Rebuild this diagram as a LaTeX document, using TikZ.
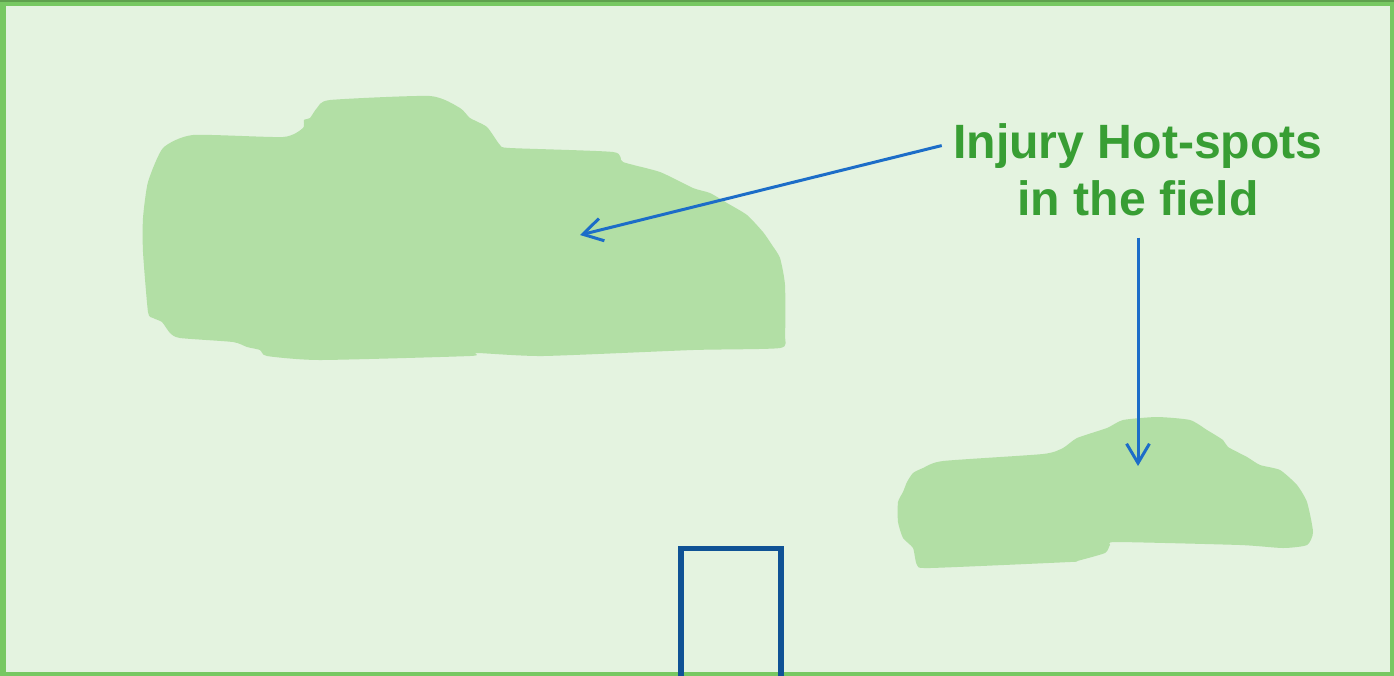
\documentclass[tikz,border=0pt]{standalone}
\usepackage{fontspec}
\setmainfont{Liberation Sans}
\usepackage{xcolor}
\usetikzlibrary{arrows.meta,positioning}

\definecolor{fieldbg}{HTML}{E4F3E0}
\definecolor{fieldframe}{HTML}{77C862}
\definecolor{spotgreen}{HTML}{B2DFA5}
\definecolor{labelgreen}{HTML}{389E34}
\definecolor{arrowblue}{HTML}{1C6DC8}
\definecolor{goalblue}{HTML}{0F5295}

\begin{document}
\begin{tikzpicture}[
    x=0.01cm, y=-0.01cm, % one unit = one pixel of the sketch
    > = {Straight Barb[length=5.5pt,width=6.5pt]}, % arrow head style
    hotlabel/.style={text=labelgreen, font=\fontsize{13.7}{16}\selectfont\bfseries, inner sep=3pt, anchor=base},
    spot/.style={fill=spotgreen, draw=none},
    pointer/.style={->, draw=arrowblue, line width=0.85pt},
    semithick % line style
]

% Field
\useasboundingbox (0,0) rectangle (1394,675);
\clip (0,0) rectangle (1394,675);
\fill[fieldbg] (0,0) rectangle (1394,675);
\draw[fieldframe, line width=1.7pt] (3,3) rectangle (1393,674.5);
\draw[fieldframe!80!black, line width=0.5pt] (0,0.8) -- (1394,0.8);

% Hot-spots
\fill[spot] plot[smooth cycle, tension=0.35] coordinates {
    (163,148) (193,135) (283,137) (303,128) (304,120) (310,118) (317,108) (330,100)
    (430,96) (460,108) (470,118) (487,127) (500,145) (510,148) (613,152) (623,162)
    (660,172) (693,188) (710,193) (727,203) (747,215) (763,232) (772,245) (780,258)
    (785,285) (785,335) (780,348) (693,350) (543,356) (477,353) (470,356) (320,360)
    (267,356) (260,350) (247,347) (233,342) (180,338) (170,333) (162,322) (153,318)
    (148,312) (143,252) (143,218) (148,182)};
\fill[spot] plot[smooth cycle, tension=0.35] coordinates {
    (923,468) (943,461) (1043,454) (1063,448) (1077,438) (1107,428) (1123,420) (1157,417)
    (1190,420) (1207,430) (1223,440) (1228,447) (1247,457) (1260,465) (1280,470) (1297,485)
    (1307,502) (1313,532) (1307,545) (1283,548) (1240,545) (1117,542) (1110,545) (1105,553)
    (1077,561) (1070,562) (930,568) (917,565) (913,548) (903,538) (898,522) (898,502)
    (903,492) (907,482) (913,473)};

% Goal
\draw[goalblue, line width=1.6pt] (681,690) -- (681,548.5) -- (781,548.5) -- (781,690);

% Nodes
\node[hotlabel] (hot) at (1138,158) {Injury Hot-spots};
\node[hotlabel] (field) at (1138,215) {in the field};
\coordinate (bigspot) at (580,235);
\coordinate (smallspot) at (1138,466);

% Edges
\draw[pointer] (hot.west) -- (bigspot);
\draw[pointer, shorten <=3pt] (field.south) -- (smallspot);

\end{tikzpicture}
\end{document}
